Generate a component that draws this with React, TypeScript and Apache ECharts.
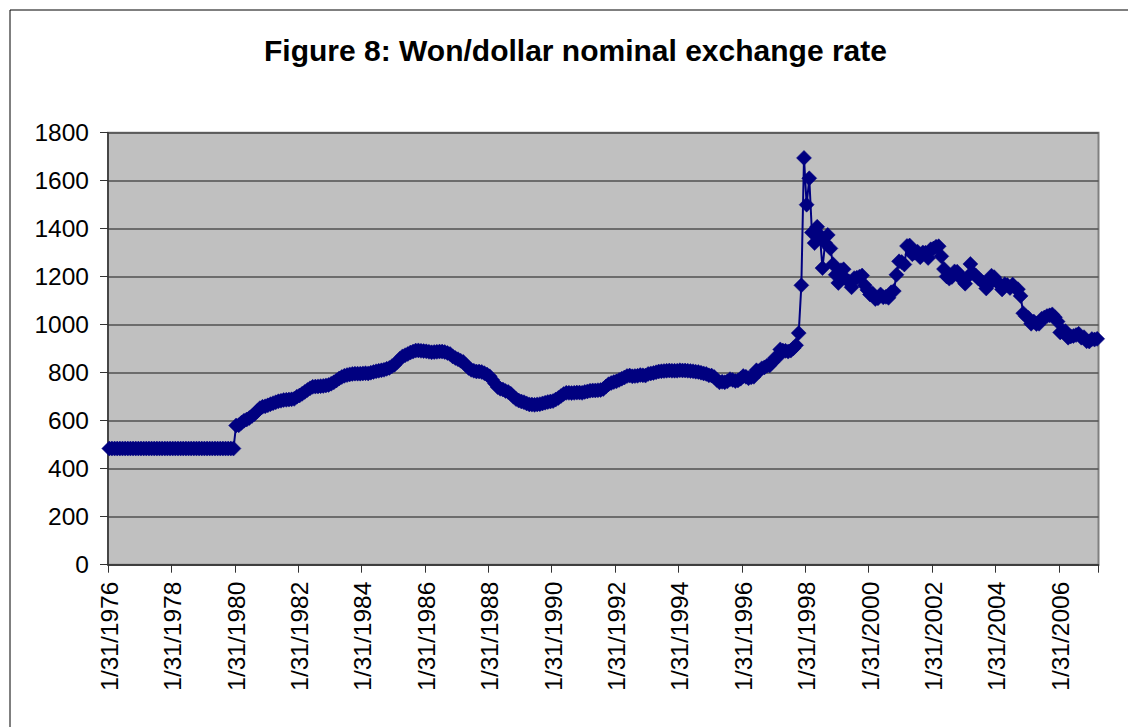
import { useEffect, useRef } from "react";
import * as echarts from "echarts";

const TITLE = "Figure 8: Won/dollar nominal exchange rate";
const START_YEAR = 1976;

// Month-end won/dollar rates
const v1976 = [484, 484, 484, 484, 484, 484, 484, 484, 484, 484, 484, 484];
const v1977 = [484, 484, 484, 484, 484, 484, 484, 484, 484, 484, 484, 484];
const v1978 = [484, 484, 484, 484, 484, 484, 484, 484, 484, 484, 484, 484];
const v1979 = [484, 484, 484, 484, 484, 484, 484, 484, 484, 484, 484, 484];
const v1980 = [580, 581, 591, 600, 605, 611, 620, 628, 640, 652, 658, 660];
const v1981 = [664, 669, 673, 677, 681, 683, 686, 687, 688, 689, 691, 700];
const v1982 = [705, 712, 720, 728, 735, 741, 742, 743, 744, 745, 747, 749];
const v1983 = [754, 760, 768, 776, 782, 787, 790, 793, 795, 796, 796, 796];
const v1984 = [797, 798, 797, 800, 803, 806, 808, 810, 812, 816, 820, 827];
const v1985 = [833, 845, 858, 868, 873, 878, 884, 888, 892, 893, 891, 890];
const v1986 = [889, 887, 885, 886, 887, 888, 888, 886, 882, 878, 868, 861];
const v1987 = [856, 850, 845, 832, 820, 812, 808, 805, 805, 803, 798, 792];
const v1988 = [785, 770, 755, 740, 733, 730, 724, 720, 712, 700, 690, 684];
const v1989 = [680, 677, 672, 668, 667, 666, 668, 669, 672, 675, 678, 680];
const v1990 = [682, 688, 695, 703, 711, 716, 716, 715, 716, 717, 717, 716];
const v1991 = [720, 722, 725, 726, 726, 727, 728, 732, 742, 752, 757, 761];
const v1992 = [764, 770, 775, 780, 786, 788, 785, 786, 787, 790, 789, 788];
const v1993 = [795, 797, 799, 802, 805, 806, 807, 808, 809, 808, 808, 808];
const v1994 = [810, 809, 809, 808, 807, 806, 804, 803, 800, 797, 795, 789];
const v1995 = [788, 782, 770, 760, 762, 760, 764, 773, 770, 765, 768, 775];
const v1996 = [786, 783, 777, 781, 783, 810, 807, 818, 822, 829, 830, 844];
const v1997 = [861, 864, 897, 892, 891, 888, 892, 902, 914, 965, 1164, 1695];
const v1998 = [1500, 1610, 1384, 1340, 1408, 1374, 1236, 1340, 1374, 1318, 1252, 1208];
const v1999 = [1174, 1227, 1231, 1189, 1180, 1156, 1194, 1196, 1200, 1205, 1164, 1145];
const v2000 = [1126, 1130, 1107, 1110, 1126, 1114, 1116, 1112, 1135, 1140, 1208, 1264];
const v2001 = [1261, 1251, 1328, 1330, 1294, 1300, 1304, 1281, 1301, 1300, 1278, 1314];
const v2002 = [1317, 1325, 1327, 1285, 1232, 1201, 1192, 1199, 1222, 1221, 1206, 1186];
const v2003 = [1171, 1200, 1253, 1215, 1205, 1193, 1183, 1175, 1151, 1168, 1204, 1198];
const v2004 = [1181, 1168, 1147, 1169, 1165, 1153, 1167, 1153, 1148, 1120, 1048, 1035];
const v2005 = [1028, 1004, 1013, 1003, 1004, 1025, 1030, 1036, 1039, 1043, 1031, 1013];
const v2006 = [968, 975, 973, 946, 951, 953, 957, 962, 946, 948, 931, 930];
const v2007 = [940, 938, 941];

const values: number[] = [
  ...v1976, ...v1977, ...v1978, ...v1979, ...v1980, ...v1981, ...v1982, ...v1983,
  ...v1984, ...v1985, ...v1986, ...v1987, ...v1988, ...v1989, ...v1990, ...v1991,
  ...v1992, ...v1993, ...v1994, ...v1995, ...v1996, ...v1997, ...v1998, ...v1999,
  ...v2000, ...v2001, ...v2002, ...v2003, ...v2004, ...v2005, ...v2006, ...v2007,
];

// Month-end date categories (M/D/YYYY)
const categories: string[] = values.map((_, i) => {
  const year = START_YEAR + Math.floor(i / 12);
  const month = (i % 12) + 1;
  const day = new Date(year, month, 0).getDate();
  return `${month}/${day}/${year}`;
});

const FONT = '"Liberation Sans", Arial, Helvetica, sans-serif';

export default function App() {
  const ref = useRef<HTMLDivElement>(null);
  useEffect(() => {
    const chart = echarts.init(ref.current!, null, { renderer: "svg" });
    chart.setOption({
      animation: false,
      backgroundColor: "#ffffff",
      graphic: [
        {
          type: "rect",
          silent: true,
          z: 0,
          shape: { x: 10, y: 10, width: 1400, height: 1000 },
          style: { fill: "none", stroke: "#000000", lineWidth: 1 },
        },
        {
          type: "text",
          x: 575.5,
          y: 50,
          silent: true,
          style: {
            text: TITLE,
            fontFamily: FONT,
            fontSize: 30,
            fontWeight: "bold",
            fill: "#000000",
            textAlign: "center",
            textVerticalAlign: "middle",
          },
        },
      ],
      grid: {
        left: 108,
        top: 132.7,
        width: 990.5,
        height: 432,
        show: true,
        backgroundColor: "#C0C0C0",
        borderColor: "#808080",
        borderWidth: 2,
      },
      xAxis: {
        type: "category",
        data: categories,
        boundaryGap: true,
        axisLine: { show: true, lineStyle: { color: "#333333", width: 1.5 } },
        axisTick: { show: true, interval: 23, length: 8, lineStyle: { color: "#333333", width: 1 } },
        axisLabel: {
          interval: 23,
          rotate: 90,
          margin: 17,
          fontSize: 24.5,
          fontFamily: FONT,
          color: "#000000",
        },
        splitLine: { show: false },
      },
      yAxis: {
        type: "value",
        min: 0,
        max: 1800,
        interval: 200,
        axisLine: { show: true, lineStyle: { color: "#333333", width: 1.5 } },
        axisTick: { show: true, length: 8, lineStyle: { color: "#333333", width: 1 } },
        axisLabel: {
          margin: 19,
          fontSize: 24.5,
          fontFamily: FONT,
          color: "#000000",
          formatter: (v: number) => String(v),
        },
        splitLine: { show: true, lineStyle: { color: "#505050", width: 1.5 } },
      },
      series: [
        {
          type: "line",
          data: values,
          showAllSymbol: true,
          symbol: "diamond",
          symbolSize: 15,
          lineStyle: { color: "#000080", width: 2 },
          itemStyle: { color: "#000080", borderColor: "#000080", borderWidth: 0.5 },
        },
      ],
    });
    return () => chart.dispose();
  }, []);
  return (
    <div
      ref={ref}
      style={{ position: "fixed", left: 0, top: 0, width: 1128, height: 727, background: "#fff" }}
    />
  );
}
